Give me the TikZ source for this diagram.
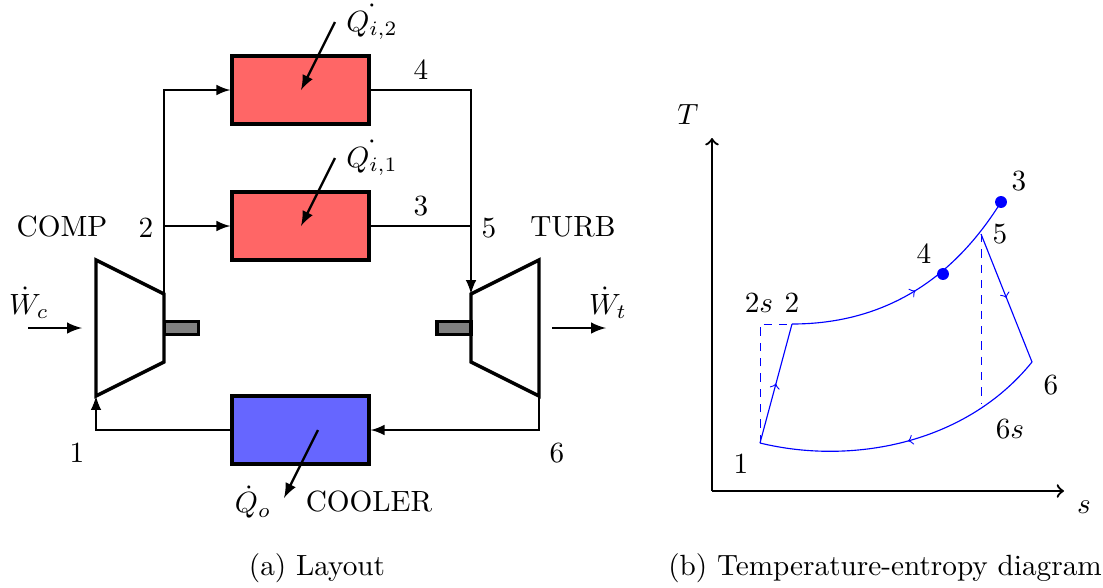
\documentclass[tikz,border=0pt]{standalone}
\usepackage{amsmath}
\usepackage{amssymb}
\usetikzlibrary{arrows,decorations.markings}

\tikzset{
	heater/.style={draw,very thick,fill=red!60,minimum width=48.2pt,minimum height=23.9pt,inner sep=0pt},
	cooler/.style={draw,very thick,fill=blue!60,minimum width=48.2pt,minimum height=23.9pt,inner sep=0pt},
	shaft/.style={draw,very thick,fill=gray,minimum width=12pt,minimum height=4.6pt,inner sep=0pt},
	machine/.style={draw,very thick,line join=miter},
	flow/.style={line width=0.7pt,-latex},
	pipe/.style={line width=0.7pt},
	heat/.style={thick,-latex},
	cycle/.style={blue},
	guide/.style={blue,line width=0.33pt,dash pattern=on 2.9pt off 2.5pt},
	mid/.style={postaction={decorate,decoration={markings,mark=at position #1 with {\arrow{>}}}}},
	statept/.style={circle,fill=blue,inner sep=0pt,minimum size=4.2pt},
	lab/.style={scale=1.03},
}

\begin{document}
\begin{tikzpicture}[x=0.3521pt,y=-0.3521pt]
	\useasboundingbox (0,0) rectangle (1103,587);
	% layout
	\node[heater] (h2) at (300.5,90) {};
	\node[heater] (h1) at (300.5,226) {};
	\node[cooler] (c1) at (300.5,430) {};
	\node[shaft] (s1) at (181.5,328) {};
	\node[shaft] (s2) at (454,328) {};
	\coordinate (a1) at (96,260);
	\coordinate (a2) at (164,294);
	\coordinate (a3) at (164,362);
	\coordinate (a4) at (96,396);
	\coordinate (b1) at (539,260);
	\coordinate (b2) at (471,294);
	\coordinate (b3) at (471,362);
	\coordinate (b4) at (539,396);
	\coordinate (j2) at (164,226);
	\coordinate (j5) at (471,226);
	\draw[machine] (a1) -- (a2) -- (a3) -- (a4) -- cycle;
	\draw[machine] (b1) -- (b2) -- (b3) -- (b4) -- cycle;
	\draw[flow] (a2) |- (h2);
	\draw[flow] (j2) -- (h1);
	\draw[flow] (h2) -| (b2);
	\draw[pipe] (h1) -- (j5);
	\draw[flow] (b4) |- (c1);
	\draw[flow] (c1) -| (a4);
	\coordinate (q2) at (335,22);
	\coordinate (q2e) at (301,90);
	\coordinate (q1) at (335,158);
	\coordinate (q1e) at (301,226);
	\coordinate (q0) at (318,430);
	\coordinate (q0e) at (284,498);
	\draw[heat] (q2) -- (q2e);
	\draw[heat] (q1) -- (q1e);
	\draw[heat] (q0) -- (q0e);
	\coordinate (w1) at (28,328);
	\coordinate (w1e) at (82,328);
	\coordinate (w2) at (552,328);
	\coordinate (w2e) at (606,328);
	\draw[heat] (w1) -- (w1e);
	\draw[heat] (w2) -- (w2e);
	\node[lab] (lcomp) at (62,227) {COMP};
	\node[lab] (lturb) at (573,227) {TURB};
	\node[lab] (lcool) at (369,501) {COOLER};
	\node[lab] (l1) at (77,453) {1};
	\node[lab] (l2) at (146,228) {2};
	\node[lab] (l3) at (421,206) {3};
	\node[lab] (l4) at (421,70) {4};
	\node[lab] (l5) at (489,228) {5};
	\node[lab] (l6) at (557,453) {6};
	\node[lab] (lq2) at (372,22) {$\dot{Q_{i,2}}$};
	\node[lab] (lq1) at (372,158) {$\dot{Q_{i,1}}$};
	\node[lab] (lq0) at (253,502) {$\dot{Q}_o$};
	\node[lab] (lw1) at (29,303) {$\dot{W}_c$};
	\node[lab] (lw2) at (608,303) {$\dot{W}_t$};
	\node[lab] (capa) at (317,568) {(a) Layout};
	% T-s diagram
	\coordinate (o) at (712,491);
	\coordinate (ty) at (712,138);
	\coordinate (sx) at (1064,491);
	\coordinate (p1) at (760,443);
	\coordinate (p2) at (792,324);
	\coordinate (p2s) at (760,324);
	\coordinate (p3) at (1001,202);
	\coordinate (p5) at (981,234);
	\coordinate (p6) at (1032,362);
	\coordinate (p6s) at (981,403);
	\draw[thick,->] (o) -- (ty);
	\draw[thick,->] (o) -- (sx);
	\draw[cycle,mid=0.5] (p1) -- (p2);
	\draw[cycle,mid=0.51] (p2) .. controls (870,324) and (945,292) .. (p3);
	\draw[cycle,mid=0.5] (p5) -- (p6);
	\draw[cycle,mid=0.5] (p6) .. controls (965,445) and (850,465) .. (p1);
	\draw[guide] (p1) -- (p2s) -- (p2);
	\draw[guide] (p5) -- (p6s);
	\node[statept] (d3) at (p3) {};
	\node[statept] (d4) at (943,274) {};
	\node[lab] (lt) at (688,115) {$T$};
	\node[lab] (ls) at (1084,507) {$s$};
	\node[lab] (t1) at (741,464) {1};
	\node[lab] (t2) at (792,303) {2};
	\node[lab] (t2s) at (759,303) {$2s$};
	\node[lab] (t3) at (1019,181) {3};
	\node[lab] (t4) at (924,254) {4};
	\node[lab] (t5) at (1000,234) {5};
	\node[lab] (t6) at (1051,385) {6};
	\node[lab] (t6s) at (1010,429) {$6s$};
	\node[lab] (capb) at (885,568) {(b) Temperature-entropy diagram};
\end{tikzpicture}
\end{document}
